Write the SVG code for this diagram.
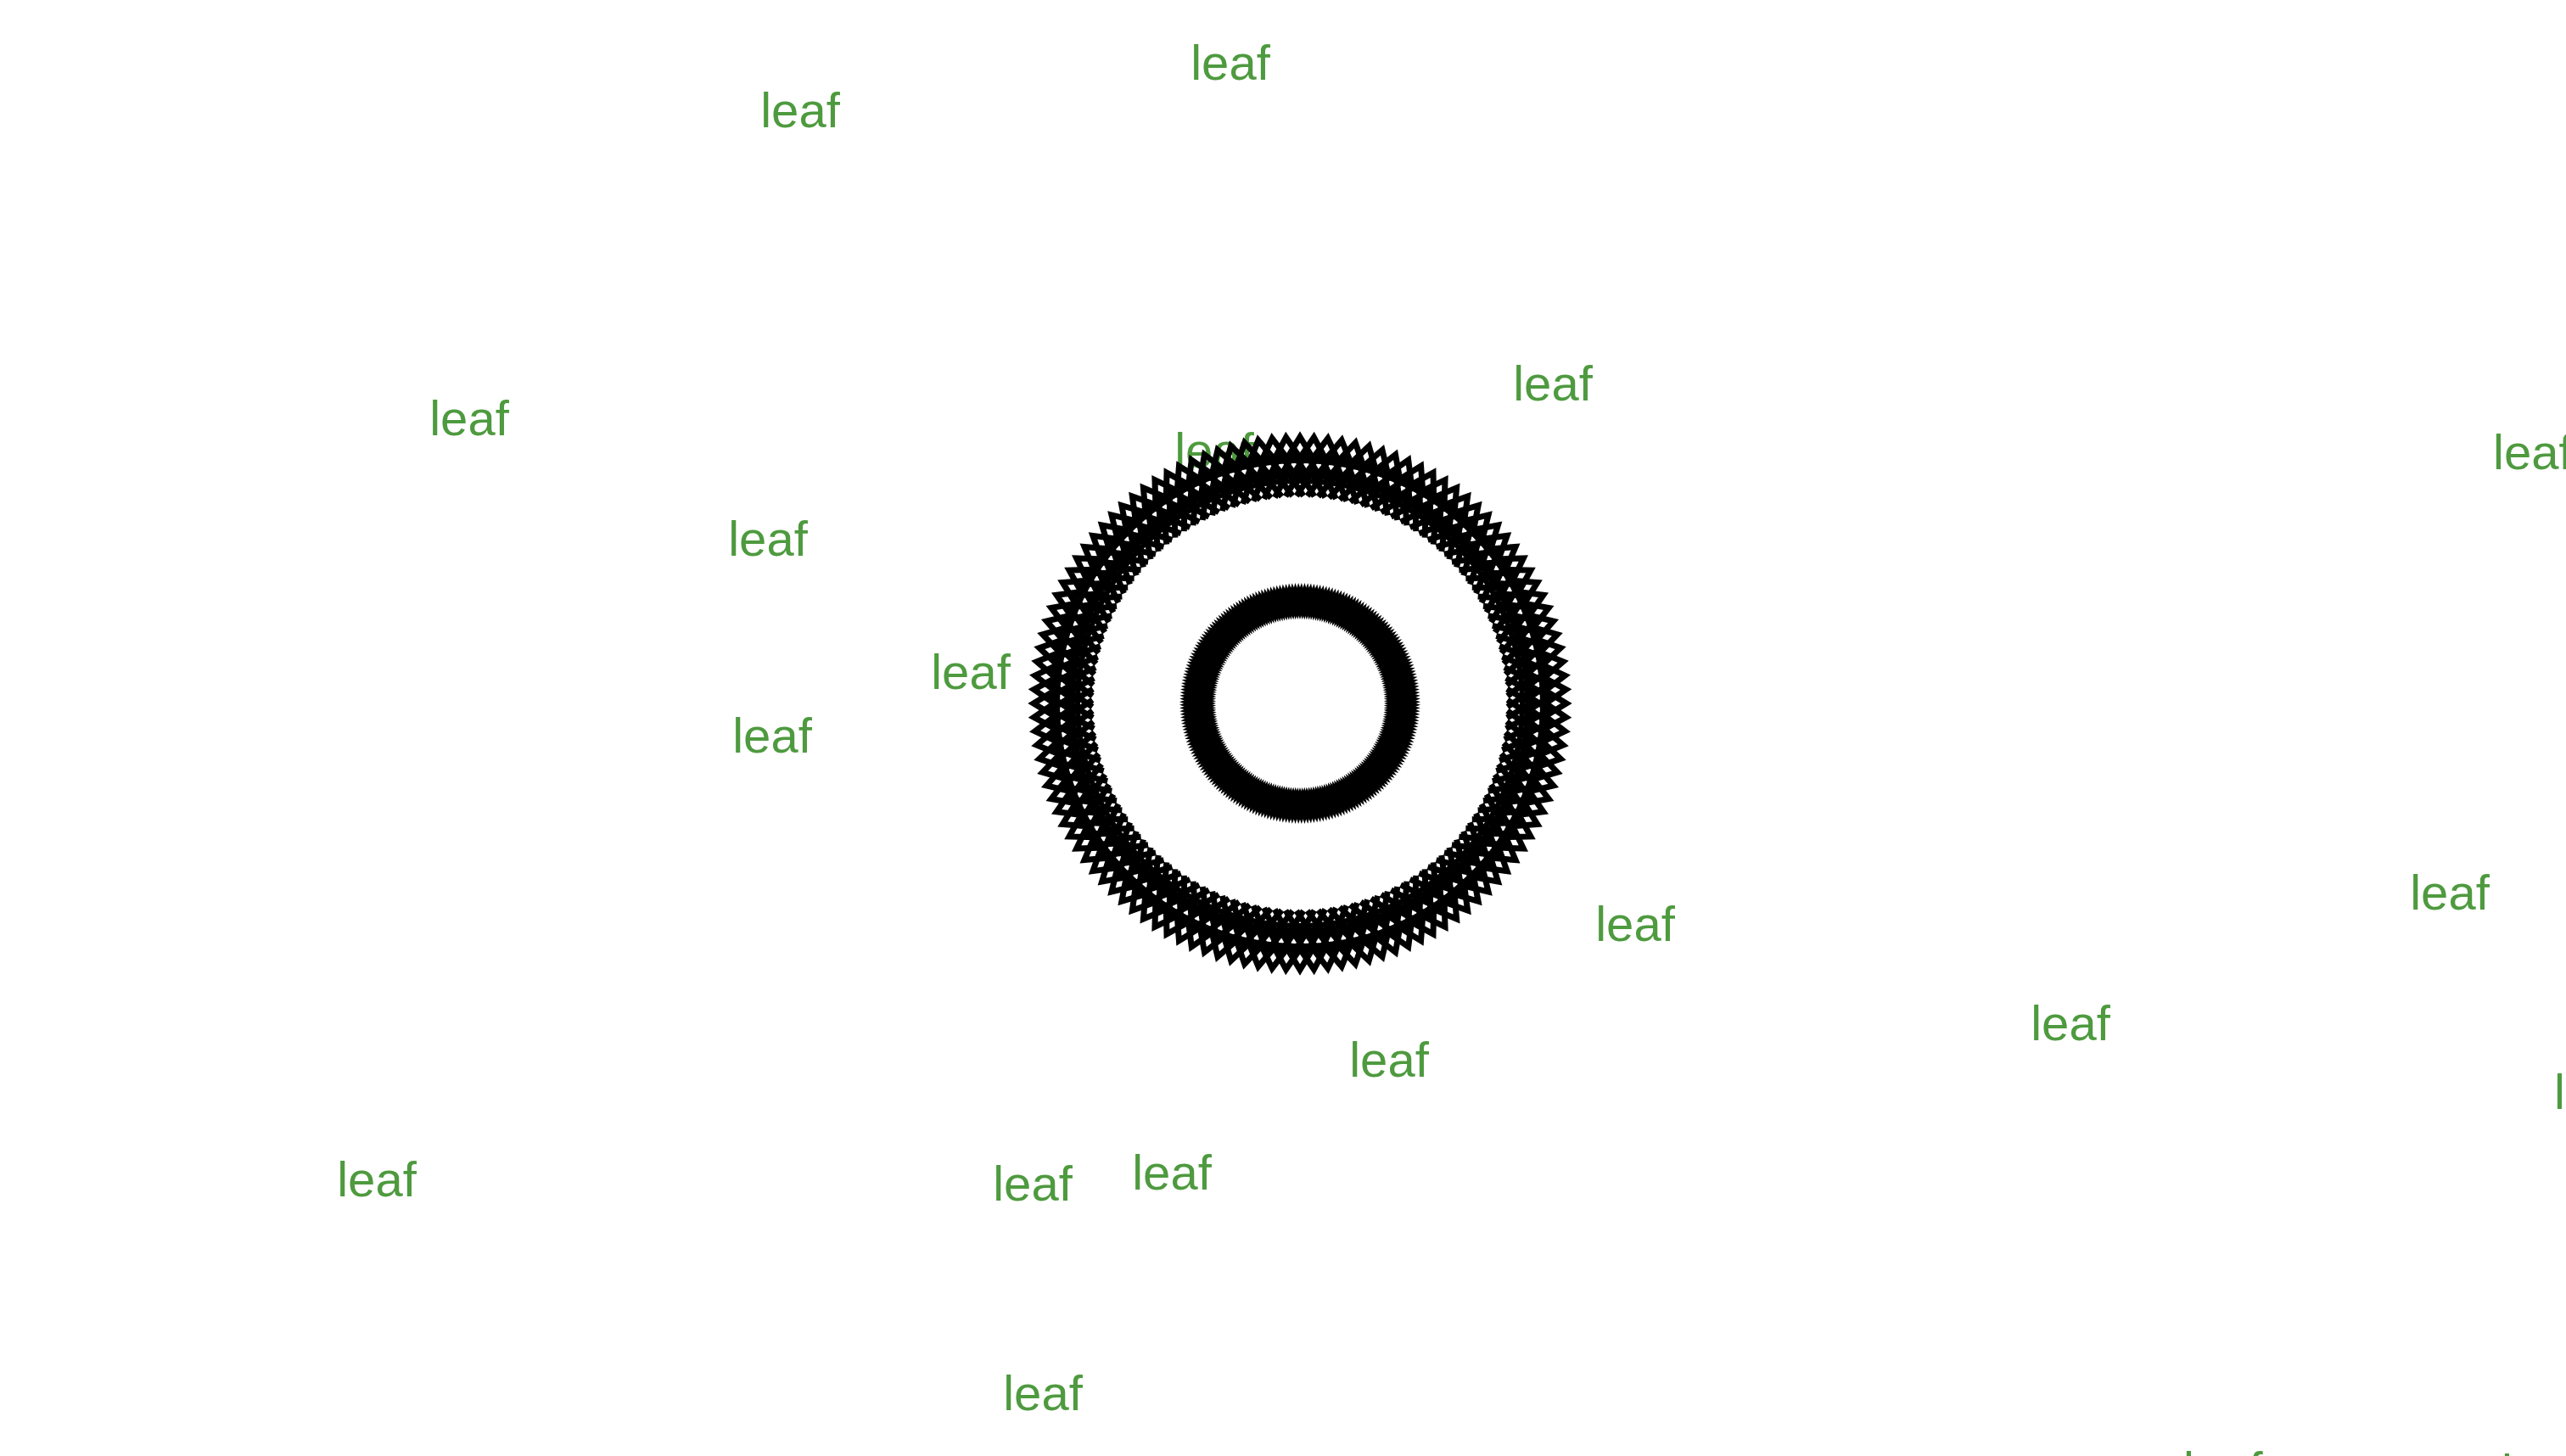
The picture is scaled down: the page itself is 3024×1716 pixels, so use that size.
<svg xmlns="http://www.w3.org/2000/svg" width="3024" height="1716" viewBox="0 0 3024 1716">
<style>
.leaf text{font-family:"Liberation Sans",Arial,Helvetica,sans-serif;font-size:58px;fill:#4e9a3f;text-anchor:middle}
.leaf text.s{text-anchor:start}
.chev{fill:none;stroke:#000;stroke-width:7;stroke-linejoin:miter;stroke-miterlimit:10}
.band{fill:none;stroke:#000;stroke-width:6}
.dia{fill:#000}
</style>
<defs>
<path id="chev" class="chev" d="M-28,-17 L0,0 L-28,17"/>
<path id="dia" class="dia" d="M-15,0 L0,-5 L15,0 L0,5 Z"/>
<g id="oCol">
<use href="#chev" transform="translate(272 0)"/>
<use href="#chev" transform="rotate(1.5) translate(294 0)"/>
<use href="#chev" transform="translate(314 0)"/>
</g>
<g id="oA">
<use href="#oCol"/>
<use href="#oCol" transform="rotate(3)"/>
<use href="#oCol" transform="rotate(6)"/>
<use href="#oCol" transform="rotate(9)"/>
<use href="#oCol" transform="rotate(12)"/>
<use href="#oCol" transform="rotate(15)"/>
</g>
<g id="oB">
<use href="#oA"/>
<use href="#oA" transform="rotate(18)"/>
<use href="#oA" transform="rotate(36)"/>
<use href="#oA" transform="rotate(54)"/>
<use href="#oA" transform="rotate(72)"/>
</g>
<g id="oRing">
<use href="#oB"/>
<use href="#oB" transform="rotate(90)"/>
<use href="#oB" transform="rotate(180)"/>
<use href="#oB" transform="rotate(270)"/>
<circle class="band" r="262"/>
<circle class="band" r="286"/>
</g>
<g id="iCol">
<use href="#dia" transform="translate(114 0)"/>
<use href="#dia" transform="rotate(0.75) translate(127 0)"/>
</g>
<g id="iA">
<use href="#iCol"/>
<use href="#iCol" transform="rotate(1.5)"/>
<use href="#iCol" transform="rotate(3)"/>
<use href="#iCol" transform="rotate(4.5)"/>
<use href="#iCol" transform="rotate(6)"/>
<use href="#iCol" transform="rotate(7.5)"/>
<use href="#iCol" transform="rotate(9)"/>
<use href="#iCol" transform="rotate(10.5)"/>
<use href="#iCol" transform="rotate(12)"/>
<use href="#iCol" transform="rotate(13.5)"/>
</g>
<g id="iB">
<use href="#iA"/>
<use href="#iA" transform="rotate(15)"/>
<use href="#iA" transform="rotate(30)"/>
<use href="#iA" transform="rotate(45)"/>
<use href="#iA" transform="rotate(60)"/>
<use href="#iA" transform="rotate(75)"/>
</g>
<g id="iRing">
<use href="#iB"/>
<use href="#iB" transform="rotate(90)"/>
<use href="#iB" transform="rotate(180)"/>
<use href="#iB" transform="rotate(270)"/>
</g>
</defs>
<rect width="3024" height="1716" fill="#fff"/>
<g id="nodes">
<g id="leaf-1" class="leaf"><text x="1450" y="94">leaf</text></g>
<g id="leaf-2" class="leaf"><text x="943" y="150">leaf</text></g>
<g id="leaf-3" class="leaf"><text x="1830" y="472">leaf</text></g>
<g id="leaf-4" class="leaf"><text class="s" x="2938" y="553">leaf</text></g>
<g id="leaf-5" class="leaf"><text x="553" y="513">leaf</text></g>
<g id="leaf-6" class="leaf"><text x="1431" y="551">leaf</text></g>
<g id="leaf-7" class="leaf"><text x="905" y="655">leaf</text></g>
<g id="leaf-8" class="leaf"><text x="1144" y="812">leaf</text></g>
<g id="leaf-9" class="leaf"><text x="910" y="887">leaf</text></g>
<g id="leaf-10" class="leaf"><text x="1927" y="1109">leaf</text></g>
<g id="leaf-11" class="leaf"><text x="2887" y="1072">leaf</text></g>
<g id="leaf-12" class="leaf"><text x="2440" y="1226">leaf</text></g>
<g id="leaf-13" class="leaf"><text x="1637" y="1269">leaf</text></g>
<g id="leaf-14" class="leaf"><text class="s" x="3010" y="1307">leaf</text></g>
<g id="leaf-15" class="leaf"><text x="444" y="1410">leaf</text></g>
<g id="leaf-16" class="leaf"><text x="1217" y="1415">leaf</text></g>
<g id="leaf-17" class="leaf"><text x="1381" y="1402">leaf</text></g>
<g id="leaf-18" class="leaf"><text x="1229" y="1662">leaf</text></g>
<g id="leaf-19" class="leaf"><text class="s" x="2573" y="1752">leaf</text></g>
<g id="leaf-20" class="leaf"><text class="s" x="2948" y="1755">leaf</text></g>
</g>
<g id="connectors" transform="translate(1532 829)">
<use href="#oRing"/>
<use href="#iRing"/>
</g>
</svg>
